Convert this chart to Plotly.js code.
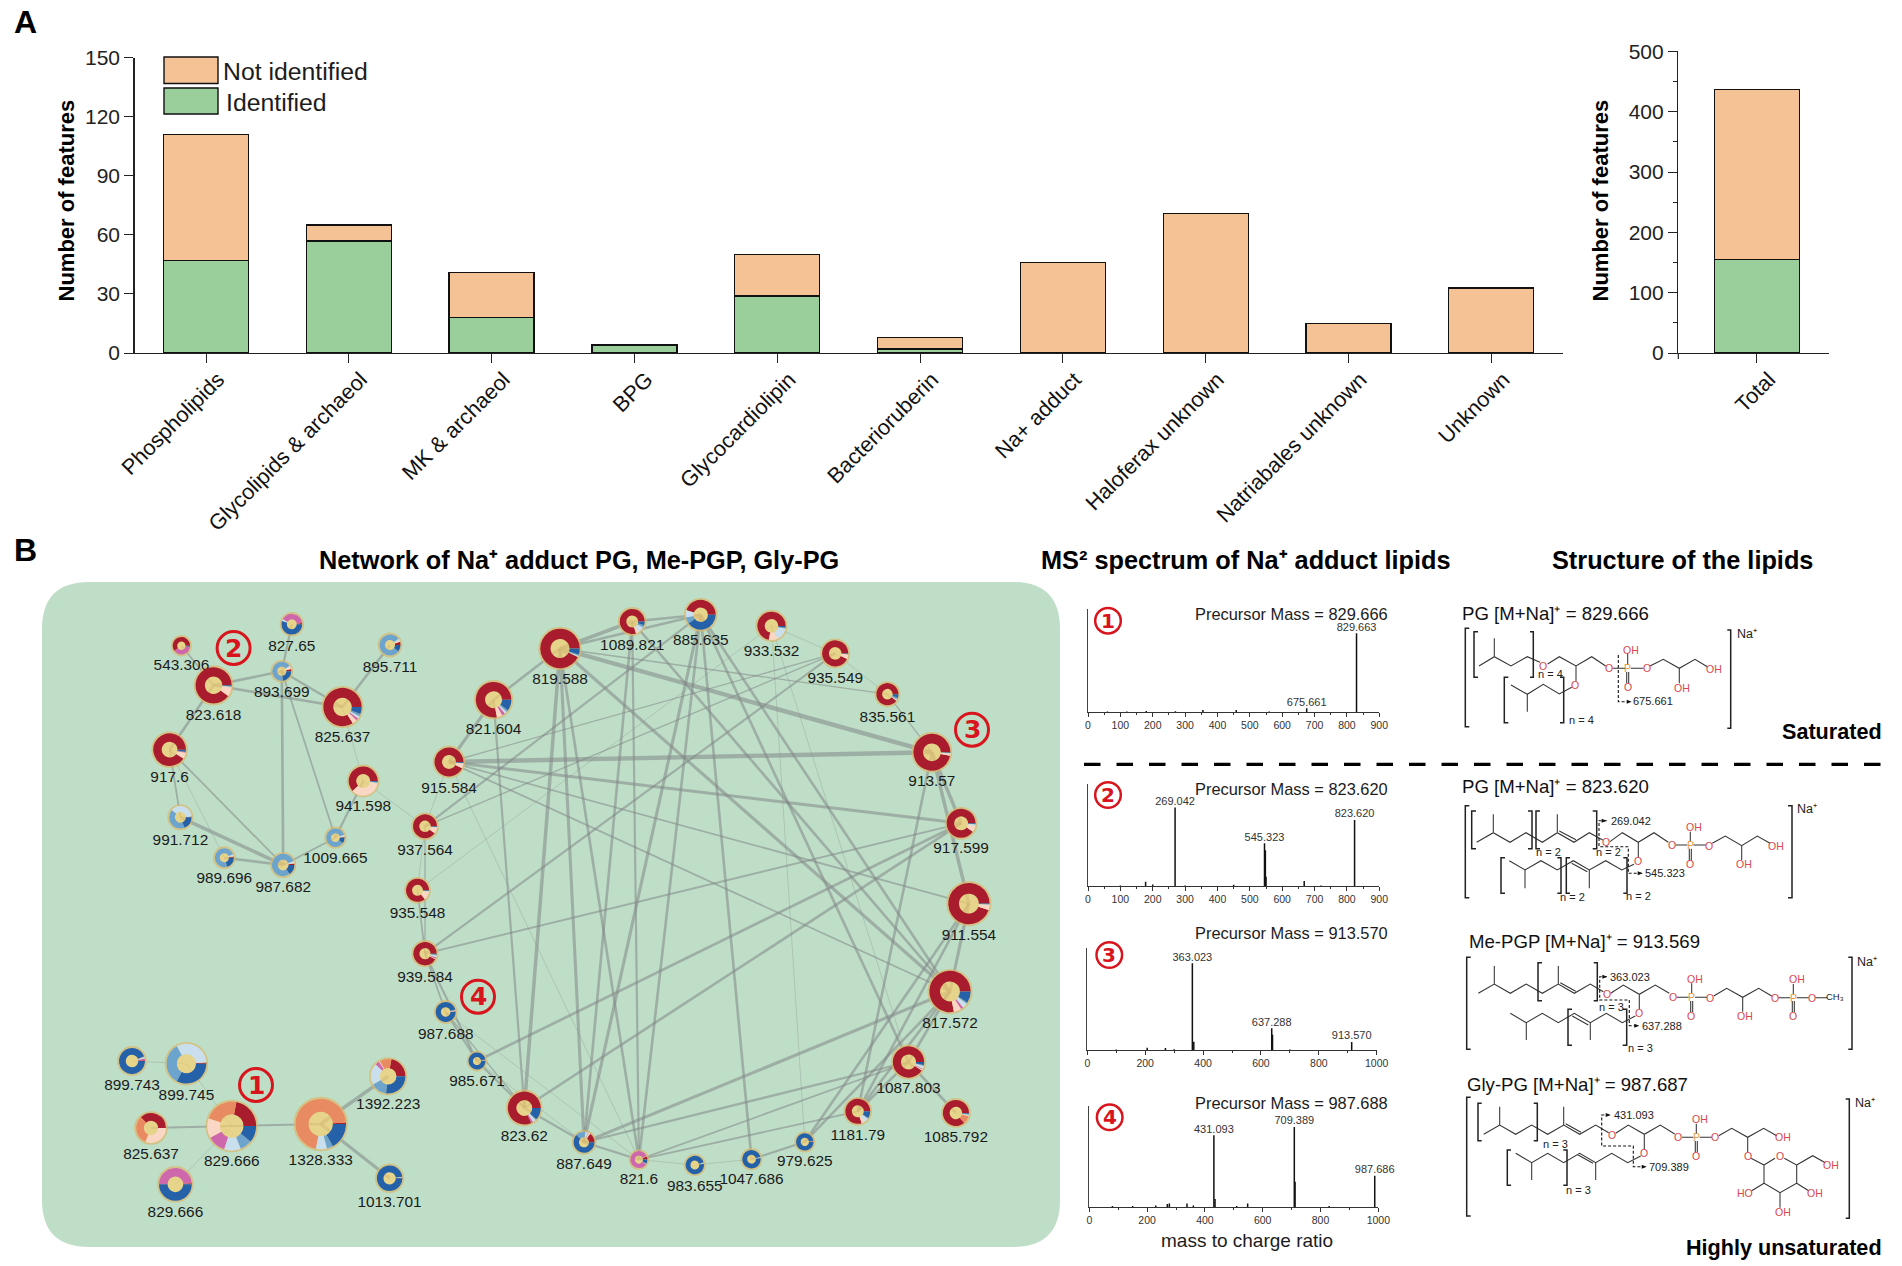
<!DOCTYPE html>
<html><head><meta charset="utf-8">
<script src="https://cdn.plot.ly/plotly-3.0.1.min.js"></script>
<style>html,body{margin:0;padding:0;background:#fff;overflow:hidden}#c{width:1902px;height:1266px}</style>
</head><body><div id="c"></div>
<script>
// ---------- Panel A data ----------
const categories = ['Phospholipids','Glycolipids & archaeol','MK & archaeol','BPG','Glycocardiolipin','Bacterioruberin','Na+ adduct','Haloferax unknown','Natriabales unknown','Unknown'];
const identified = [47,57,18,4,29,2,0,0,0,0];
const notIdentified = [64,8,23,0,21,6,46,71,15,33];
const totalCategory = ['Total'];
const totalIdentified = [155];
const totalNotIdentified = [282];

// ---------- Panel B network data (ids ending in "b" are repeated m/z labels) ----------
const nodeIds = ['543.306','827.65','893.699','895.711','823.618','825.637','917.6','941.598','991.712','989.696','987.682','1009.665',
 '821.604','915.584','937.564','935.548','939.584','987.688','985.671','823.62',
 '899.743','899.745','829.666','825.637b','829.666b','1328.333','1392.223','1013.701',
 '819.588','1089.821','885.635','933.532','935.549','835.561','913.57','917.599','911.554','817.572','1087.803','1085.792','1181.79','979.625','1047.686','983.655','821.6','887.649'];
const nodeX = [181.4,291.8,281.8,390,213.6,342.5,169.6,363.2,180.4,224.3,283.2,335.4,
 493.6,449,425,417.5,425,445.7,477,524.3,
 132,186.4,231.8,151,175.4,320.7,388.2,389.6,
 560,632.2,700.7,771.5,835.2,887.4,931.9,961.1,968.9,950,908.5,955.9,857.8,804.8,751.5,694.8,638.9,584];
const nodeY = [645.7,624.3,671.3,645,685.3,707,749.7,781,817.3,857.7,865,837.7,
 699.7,762,826.3,890.3,953.7,1012,1061,1108,
 1061,1063.7,1126,1128,1184.3,1124,1076.3,1178.3,
 648.5,621.5,614.8,625.9,653.4,694.2,752.3,823.3,903.6,991.5,1062,1113,1111.3,1141.9,1159.2,1165,1159.6,1142.3];
const nodeR = [10.2,11.8,11,12,19.6,20.7,17.9,16,12.7,11,12.7,10.7,
 19.3,16,13.5,13,13.2,11.5,10,18,
 14.5,21.4,25.9,16.4,17.9,26.8,18.75,14.3,
 21.3,14,16.5,15.7,14.6,12.6,20,16,22.2,22.2,17.2,14.6,14,10.2,10.7,10.7,10,12];
const labelY = [666,646.7,693,668,716,738,778,807,841,879,888,859,
 730,788.7,851,914,978,1034.7,1082,1137,
 1086,1095.7,1162.3,1155,1212.7,1161,1105.3,1203,
 680.5,645.9,641,652,679,717.7,782,849.5,936.5,1023.9,1089.5,1138.3,1136,1161.8,1180,1186.7,1180.5,1165];
const sliceColors = ['#A91C2E','#E98B62','#FAD6C4','#CE67AC','#C9DFEE','#6CA4CE','#2461A8'];
const sliceRows = [
 [60,0,0,38,0,0,2],[2,0,0,40,3,0,55],[4,0,3,0,3,67,23],[5,0,2,0,3,80,10],[90,0,8,0,1,0,1],[84,0,4,2,2,2,6],[91,0,6,1,0,0,2],[62,0,35,0,1,1,1],[1,0,0,0,38,42,19],[2,0,1,0,3,74,20],[2,0,1,0,3,79,15],[1,0,1,0,3,85,10],
 [78,0,5,3,2,2,10],[93,0,5,0,1,0,1],[90,0,8,0,1,0,1],[86,0,12,0,1,0,1],[92,0,1,2,3,1,1],[1,0,0,0,2,1,96],[1,0,0,0,1,1,97],[82,0,0,2,3,1,12],
 [1,0,0,2,2,1,94],[1,0,0,0,32,34,33],[22,23,13,12,11,8,11],[37,32,31,0,0,0,0],[1,0,0,49,0,0,50],[1,71,0,0,7,4,17],[22,11,1,4,20,15,27],[1,0,0,0,1,0,98],
 [93,0,0,0,1,1,5],[80,0,4,0,8,3,5],[45,0,0,0,8,7,40],[72,0,10,0,15,1,2],[93,0,6,0,0,0,1],[90,0,1,0,1,3,5],[97,0,2,0,0.5,0,0.5],[90,0,7,0,2,0,1],[95,0,4,0,0.5,0,0.5],[78,0,6,2,4,1,9],[91,0,1,1,3,1,3],[86,10,1,0,1,1,1],[80,0,4,0,6,1,9],[1,0,0,0,1,0,98],[0,0,0,0,2,0,98],[0,0,0,0,2,1,97],[6,0,1,84,1,0,8],[15,0,3,1,4,15,62]];
const edges = [
 ['543.306','823.618',2],['827.65','893.699',2.5],['823.618','893.699',3],['823.618','825.637',3],['893.699','825.637',2.5],['825.637','895.711',3],['823.618','917.6',3],['893.699','987.682',3],['893.699','1009.665',2],['825.637','941.598',1],['941.598','1009.665',2.5],['917.6','991.712',2],['917.6','989.696',1],['917.6','987.682',2],['991.712','987.682',4],['989.696','987.682',3],['1009.665','987.682',2],['941.598','937.564',1],
 ['899.743','899.745',1],['899.745','829.666',1],['825.637b','829.666',2],['829.666b','829.666',1],['829.666','1328.333',2],['1328.333','1392.223',4],['1328.333','1013.701',3.5],
 ['819.588','821.604',3],['819.588','1089.821',4],['819.588','885.635',3],['1089.821','885.635',3],['819.588','913.57',5],['819.588','817.572',3.5],['819.588','823.62',4],['819.588','887.649',3.5],['819.588','821.6',3],['819.588','835.561',1.5],
 ['1089.821','887.649',3],['1089.821','821.6',2.5],['1089.821','817.572',3],['885.635','887.649',3.5],['885.635','821.6',3],['885.635','1047.686',3],['885.635','817.572',3],['885.635','1087.803',3],
 ['933.532','1087.803',1],['933.532','979.625',1],['933.532','935.549',1],['935.549','835.561',1],['835.561','913.57',1.5],['935.549','915.584',1.5],['935.549','939.584',2.5],['935.549','937.564',1.5],
 ['913.57','915.584',5],['913.57','917.599',4],['913.57','911.554',4],['913.57','1181.79',3],['917.599','915.584',3.5],['917.599','823.62',3],['917.599','985.671',3],['917.599','939.584',2],
 ['911.554','817.572',3.5],['911.554','915.584',2],['911.554','979.625',3],['911.554','1181.79',3],['817.572','979.625',3],['817.572','887.649',3.5],['817.572','1087.803',3],['1087.803','887.649',2.5],['1087.803','821.6',2],['1087.803','1085.792',3],['1087.803','1181.79',3],
 ['915.584','821.604',3.5],['915.584','937.564',1],['915.584','821.6',1],['915.584','817.572',2],['821.604','823.62',2.5],['937.564','935.548',1],['937.564','939.584',1.5],['937.564','885.635',2.5],['935.548','939.584',2],['935.548','933.532',1],
 ['939.584','985.671',2.5],['939.584','987.688',2],['987.688','985.671',2.5],['987.688','823.62',1.5],['987.688','821.6',1],['985.671','823.62',2.5],['985.671','887.649',1],['823.62','887.649',2.5],['887.649','821.6',2.5],['821.6','983.655',1],['983.655','1047.686',1],['1047.686','979.625',2.5],['821.6','1181.79',2],['1181.79','817.572',3]];

// ---------- Panel B MS2 spectra ----------
const spec1Mz = [60,120,180,270,355,458,560,675.661,829.663], spec1Int = [0.5,0.6,1,0.8,2,2,0.6,3.6,76.6];
const spec2Mz = [100,178,200,269.042,300,450,545.323,548,550,668,720,823.62], spec2Int = [0.5,4.2,1.5,77,0.6,1.2,41.8,35,9,4.9,0.5,64.7];
const spec3Mz = [100,207,270,300,363.023,368,637.288,640,700,913.57], spec3Int = [0.5,2.3,2,0.7,85.2,8,21.3,15,0.4,7.9];
const spec4Mz = [80,150,230,270,277,338,360,431.093,435,510,548,709.389,712,830,987.686], spec4Int = [1,1,1.5,3,3.5,3.5,1.5,70.8,8,1,3.5,79,25,1,30.9];
const spec1Labels = ['675.661','829.663'], spec2Labels = ['269.042','545.323','823.620'], spec3Labels = ['363.023','637.288','913.570'], spec4Labels = ['431.093','709.389','987.686'];
const precursors = ['Precursor Mass = 829.666','Precursor Mass = 823.620','Precursor Mass = 913.570','Precursor Mass = 987.688'];

// ---------- helpers ----------
const W=1902,H=1266,FONT='Liberation Sans, Arial, sans-serif',INK='#1c1c1c';
const px=v=>v/W, py=v=>1-v/H;
const shapes=[],annotations=[],traces=[];
function T(text,x,y,o={}){annotations.push({xref:'x3',yref:'y3',x,y,text,showarrow:false,xanchor:o.xa||'center',yanchor:'middle',textangle:o.angle||0,
  font:{family:o.family||FONT,size:o.size||15,color:o.color||INK,weight:o.bold?700:400},borderpad:0,borderwidth:0});}
function P(path,o={}){shapes.push({type:'path',xref:'x3',yref:'y3',path,line:{color:o.color||'#222',width:o.width===undefined?1.1:o.width,dash:o.dash||'solid'},fillcolor:o.fill||'rgba(0,0,0,0)',layer:o.layer||'above'});}
function circled(n,x,y,r,lw,fs){shapes.push({type:'circle',xref:'x3',yref:'y3',x0:x-r,x1:x+r,y0:y-r,y1:y+r,line:{color:'#D8141C',width:lw},layer:'above'});
  T(String(n),x,y,{size:fs,bold:true,color:'#D8141C',family:'DejaVu Sans'});}

// ---------- Panel A traces ----------
const GREEN='#9ACF9C',PEACH='#F5C296';
const barLine={color:'#111',width:1.3};
traces.push({type:'bar',x:categories,y:identified,name:'Identified',marker:{color:GREEN,line:barLine},width:0.595,xaxis:'x',yaxis:'y',showlegend:false});
traces.push({type:'bar',x:categories,y:notIdentified,name:'Not identified',marker:{color:PEACH,line:barLine},width:0.595,xaxis:'x',yaxis:'y',showlegend:false});
traces.push({type:'bar',x:totalCategory,y:totalIdentified,name:'Identified',marker:{color:GREEN,line:barLine},width:0.6,xaxis:'x2',yaxis:'y2',showlegend:false});
traces.push({type:'bar',x:totalCategory,y:totalNotIdentified,name:'Not identified',marker:{color:PEACH,line:barLine},width:0.6,xaxis:'x2',yaxis:'y2',showlegend:false});

// legend swatches
shapes.push({type:'rect',xref:'x3',yref:'y3',x0:164,x1:218,y0:57,y1:83.5,fillcolor:PEACH,line:{color:'#111',width:1.4},layer:'above'});
shapes.push({type:'rect',xref:'x3',yref:'y3',x0:164,x1:218,y0:88,y1:114,fillcolor:GREEN,line:{color:'#111',width:1.4},layer:'above'});
shapes.push({type:'line',xref:'x3',yref:'y3',x0:1678.3,x1:1678.3,y0:353,y1:359,line:{color:'#222',width:1.2},layer:'above'});
T('Not identified',223,71,{xa:'left',size:24.8});
T('Identified',226,102,{xa:'left',size:24.8});
T('Number of features',65.5,201,{size:22,bold:true,color:'#000',angle:-90});
T('Number of features',1599.5,201,{size:22,bold:true,color:'#000',angle:-90});
T('A',25,22,{size:32,bold:true,color:'#000'});
T('B',25,550,{size:32,bold:true,color:'#000'});
T('Network of Na⁺ adduct PG, Me-PGP, Gly-PG',579,560,{size:25.3,bold:true,color:'#000'});
T('MS² spectrum of Na⁺ adduct lipids',1246,560,{size:25.3,bold:true,color:'#000'});
T('Structure of the lipids',1682,560,{size:25.3,bold:true,color:'#000'});

// ---------- Network ----------
const R0=47,PL=42,PR=1060,PT=582,PB=1247;
P(`M ${PL+R0} ${PT} L ${PR-R0} ${PT} Q ${PR} ${PT} ${PR} ${PT+R0} L ${PR} ${PB-R0} Q ${PR} ${PB} ${PR-R0} ${PB} L ${PL+R0} ${PB} Q ${PL} ${PB} ${PL} ${PB-R0} L ${PL} ${PT+R0} Q ${PL} ${PT} ${PL+R0} ${PT} Z`,{width:0,fill:'#BFDEC8',layer:'below'});
const idx=id=>nodeIds.indexOf(id);
[...new Set(edges.map(e=>e[2]))].forEach(w=>{
  const xs=[],ys=[];
  edges.filter(e=>e[2]===w).forEach(([a,b])=>{xs.push(nodeX[idx(a)],nodeX[idx(b)],null);ys.push(nodeY[idx(a)],nodeY[idx(b)],null);});
  traces.push({type:'scatter',mode:'lines',x:xs,y:ys,xaxis:'x3',yaxis:'y3',hoverinfo:'skip',showlegend:false,
    line:{color:w<=1?'rgba(130,140,135,0.35)':'rgba(130,135,135,0.55)',width:w*0.88}});
});
traces.push({type:'scatter',mode:'markers',x:nodeX,y:nodeY,xaxis:'x3',yaxis:'y3',hoverinfo:'skip',showlegend:false,
  marker:{color:'#F7D070',size:nodeR.map(r=>2*r-1),line:{color:'#D9B96E',width:1.8}}});
traces.push({type:'scatter',mode:'text',x:nodeX,y:labelY,text:nodeIds.map(s=>s.replace(/b$/,'')),xaxis:'x3',yaxis:'y3',hoverinfo:'skip',showlegend:false,
  textposition:'middle center',textfont:{family:FONT,size:15.4,color:'#1a1a1a'}});
nodeIds.forEach((id,i)=>{
  const r=nodeR[i]-1.5,vals=sliceRows[i],tot=vals.reduce((a,b)=>a+b,0),first=vals.find(v=>v>0);
  // plotly lays the first slice clockwise of "rotation" when direction is counterclockwise;
  // subtracting its span makes every ring begin at 3 o'clock and run counterclockwise
  traces.push({type:'pie',values:vals,labels:sliceColors,marker:{colors:sliceColors,line:{width:0}},sort:false,direction:'counterclockwise',rotation:90-first/tot*360,hole:0.48,
    textinfo:'none',hoverinfo:'skip',showlegend:false,domain:{x:[px(nodeX[i]-r),px(nodeX[i]+r)],y:[py(nodeY[i]+r),py(nodeY[i]-r)]}});
});
circled(1,256,1085,16.5,3,25);circled(2,233.6,648,16.5,3,25);circled(3,972,729.7,16.5,3,25);circled(4,478,996.7,16.5,3,25);

// ---------- Spectra ----------
const specBoxes=[
 {x0:1088,x1:1379.3,y0:609.3,y1:712,max:900,dt:100,mz:spec1Mz,i:spec1Int,l:spec1Labels},
 {x0:1088,x1:1379.3,y0:784,y1:886,max:900,dt:100,mz:spec2Mz,i:spec2Int,l:spec2Labels},
 {x0:1087.3,x1:1376.7,y0:948.3,y1:1050,max:1000,dt:200,mz:spec3Mz,i:spec3Int,l:spec3Labels},
 {x0:1089.3,x1:1378.3,y0:1105.7,y1:1207,max:1000,dt:200,mz:spec4Mz,i:spec4Int,l:spec4Labels}];
const specAxes={};
specBoxes.forEach((b,k)=>{
  const n=k+4,xa='x'+n,ya='y'+n;
  const xs=[],ys=[];b.mz.forEach((m,j)=>{xs.push(m,m,null);ys.push(0,b.i[j],null);});
  traces.push({type:'scatter',mode:'lines',x:xs,y:ys,xaxis:xa,yaxis:ya,hoverinfo:'skip',showlegend:false,line:{color:'#111',width:1.5}});
  const lx=b.l.map(s=>parseFloat(s)),ly=lx.map(v=>{let bi=0,bd=1e9;b.mz.forEach((m,j)=>{const d=Math.abs(m-v);if(d<bd){bd=d;bi=j;}});return b.i[bi];});
  traces.push({type:'scatter',mode:'text',x:lx,y:ly,text:b.l,xaxis:xa,yaxis:ya,hoverinfo:'skip',showlegend:false,cliponaxis:false,textposition:'top center',textfont:{family:FONT,size:11,color:'#333'}});
  specAxes['xaxis'+n]={domain:[px(b.x0),px(b.x1)],range:[0,b.max],anchor:ya,showgrid:false,zeroline:false,showline:true,linecolor:'#333',linewidth:1.3,ticks:'outside',ticklen:3.5,tickcolor:'#333',dtick:b.dt,
    minor:{dtick:b.dt/2,ticks:'outside',ticklen:2,tickcolor:'#333'},tickfont:{family:FONT,size:10.5,color:'#333'},tickangle:0};
  specAxes['yaxis'+n]={domain:[py(b.y1),py(b.y0)],range:[0,100],anchor:xa,showgrid:false,zeroline:false,showline:true,linecolor:'#444',linewidth:1.3,showticklabels:false,ticks:''};
});
[614.3,789,932.7,1103].forEach((y,k)=>T(precursors[k],1387.7,y,{xa:'right',size:16.4}));
circled(1,1108,620.7,12.8,2.5,20);circled(2,1108,795,12.8,2.5,20);circled(3,1109.3,955,12.8,2.5,20);circled(4,1109.7,1117.3,12.8,2.5,20);
T('mass to charge ratio',1247,1240,{size:19});
shapes.push({type:'line',xref:'x3',yref:'y3',x0:1084,x1:1896,y0:764.3,y1:764.3,line:{color:'#000',width:3.2,dash:'16.5px,16px'},layer:'above'});

// ---------- Lipid structures (drawn in 3x crop units, offset per block) ----------
function structure(s){
  const X=v=>1450+v/3,Y=v=>s.oy+v/3;
  const toPath=pl=>pl.map(a=>{let d='';for(let i=0;i<a.length;i+=2)d+=(i?' L ':'M ')+X(a[i]).toFixed(1)+' '+Y(a[i+1]).toFixed(1);return d;}).join(' ');
  P(toPath(s.bonds),{width:1.05,color:'#333'});
  P(toPath(s.brackets),{width:1.5,color:'#222'});
  P(toPath(s.dash),{width:1.1,color:'#111',dash:'3px,2px'});
  s.arrows.forEach(([x,y,dx])=>{const tip=X(x),yy=Y(y);P(`M ${tip} ${yy} L ${tip-dx*5} ${yy-2} L ${tip-dx*5} ${yy+2} Z`,{width:0,fill:'#111'});});
  s.text.forEach(([t,x,y])=>{
    const red=/^(O|OH|HO)$/.test(t),or=t==='P';
    const isBig=/^Na/.test(t);
    T(t,X(x),Y(y),{size:isBig?12.5:(red||or?10.5:(t==='CH₃'?9.5:11)),color:red?'#D9464E':or?'#E59A3C':'#222'});
  });
  T(s.head[0],X(s.head[1]),Y(s.head[2]),{xa:'left',size:18.6,color:'#111'});
}
structure({oy:580,head:['PG [M+Na]⁺ = 829.666',36,100],
 bonds:[[87,258,133,230,183,258,232,230,270,247],[133,230,133,175],[293,252,328,230,378,258,425,230,467,258],[378,258,378,303],[488,265,525,265],[533,255,533,222],[530,276,530,310],[536,276,536,310],[542,265,580,265],[600,258,640,238,688,265,735,238,772,260],[688,265,688,310],[183,315,232,343,280,313,328,342,365,322],[232,343,232,395]],
 brackets:[[58,145,46,145,46,440,58,440],[832,150,842,150,842,445,832,445],[84,155,72,155,72,292,84,292],[240,155,250,155,250,292,240,292],[175,292,163,292,163,428,175,428],[330,292,341,292,341,428,330,428]],
 dash:[[505,225,505,365,530,365]],arrows:[[545,365,1]],
 text:[['O',280,257],['O',376,315],['O',478,265],['P',533,265],['OH',544,210],['O',533,322],['O',590,265],['OH',792,267],['OH',695,323],['n = 4',302,283],['n = 4',395,421],['Na⁺',890,163],['675.661',608,362]]});
structure({oy:580,head:['PG [M+Na]⁺ = 823.620',36,620],
 bonds:[[80,787,130,758,180,787,228,758,277,787,322,758,372,787,418,758,458,780],[130,758,130,703],[322,758,322,703],[328,753,378,779],[480,785,517,758,565,787,612,758,655,787],[565,787,565,833],[676,795,712,795],[721,784,721,755],[718,806,718,842],[724,806,724,842],[730,795,767,795],[787,790,826,768,875,797,922,768,960,790],[875,797,875,840],[178,842,225,870,273,842,322,870,370,842,418,870,467,842,515,870,552,853],[225,870,225,925],[418,870,418,925],[365,850,412,875]],
 brackets:[[58,677,46,677,46,953,58,953],[1014,677,1026,677,1026,953,1014,953],[78,693,65,693,65,806,78,806],[234,693,246,693,246,806,234,806],[270,693,258,693,258,806,270,806],[428,693,440,693,440,806,428,806],[165,833,153,833,153,940,165,940],[322,833,333,833,333,940,322,940],[360,833,349,833,349,940,360,940],[520,833,531,833,531,940,520,940]],
 dash:[[470,722,447,722,447,800,535,800,535,880,575,880]],arrows:[[470,722,1],[578,880,1]],
 text:[['O',467,787],['O',563,843],['O',665,795],['P',721,795],['OH',732,740],['O',720,853],['O',777,797],['OH',979,797],['OH',882,853],['n = 2',296,815],['n = 2',476,815],['n = 2',367,951],['n = 2',565,948],['Na⁺',1072,688],['269.042',542,722],['545.323',645,880]]});
structure({oy:910,head:['Me-PGP [M+Na]⁺ = 913.569',57,93],
 bonds:[[85,250,133,222,181,250,229,222,277,250,325,222,373,250,421,222,460,245],[133,222,133,168],[325,222,325,168],[331,218,377,244],[482,250,520,225,568,253,616,225,658,250],[568,253,568,297],[680,262,716,262],[725,250,725,220],[722,273,722,307],[728,273,728,307],[735,262,771,262],[791,258,830,235,878,262,926,235,965,258],[878,262,878,305],[985,263,1021,263],[1030,252,1030,222],[1027,273,1027,307],[1033,273,1033,307],[1040,263,1076,263],[1096,263,1132,263],[181,310,229,338,277,310,325,338,373,310,421,338,469,310,517,338,556,318],[229,338,229,390],[421,338,421,390],[367,318,415,345]],
 brackets:[[62,142,50,142,50,418,62,418],[1195,142,1206,142,1206,418,1195,418],[276,158,264,158,264,272,276,272],[431,158,442,158,442,272,431,272],[366,298,354,298,354,406,366,406],[518,298,530,298,530,406,518,406]],
 dash:[[470,200,449,200,449,270,538,270,538,347,565,347]],arrows:[[472,200,1],[568,347,1]],
 text:[['O',470,253],['O',567,310],['O',668,262],['P',725,262],['OH',735,206],['O',724,318],['O',781,263],['O',975,263],['OH',886,318],['P',1030,263],['OH',1040,207],['O',1029,318],['O',1086,263],['CH₃',1155,260],['n = 3',483,290],['n = 3',572,413],['Na⁺',1250,157],['363.023',541,200],['637.288',635,347]]});
structure({oy:910,head:['Gly-PG [M+Na]⁺ = 987.687',52,522],
 bonds:[[101,673,149,645,197,673,245,645,293,673,341,645,389,673,437,645,476,668],[149,645,149,590],[341,645,341,590],[347,641,393,667],[497,670,535,645,583,673,631,645,674,672],[583,673,583,718],[696,682,730,682],[739,671,739,641],[736,693,736,727],[742,693,742,727],[749,682,785,682],[806,677,845,655,893,682,941,655,980,677],[893,682,893,727],[903,745,942,765],[942,765,975,745],[1003,745,1040,765,1040,820,990,848,942,820,942,765],[1040,765,1088,737,1126,758],[1040,820,1076,842],[990,848,990,893],[942,820,905,842],[197,730,245,758,293,730,341,758,389,730,437,758,485,730,533,758,572,738],[245,758,245,810],[437,758,437,810],[383,734,429,760]],
 brackets:[[62,562,50,562,50,918,62,918],[1187,567,1198,567,1198,925,1187,925],[95,580,84,580,84,692,95,692],[251,580,262,580,262,692,251,692],[183,720,172,720,172,826,183,826],[340,720,351,720,351,826,340,826]],
 dash:[[478,615,455,615,455,708,550,708,550,770,585,770]],arrows:[[482,615,1],[590,770,1]],
 text:[['O',486,674],['O',583,729],['O',685,682],['P',739,682],['OH',750,627],['O',739,738],['O',796,682],['OH',998,682],['O',893,739],['O',989,739],['OH',1143,766],['OH',1095,850],['OH',998,905],['HO',885,850],['n = 3',315,702],['n = 3',385,841],['Na⁺',1245,578],['431.093',551,615],['709.389',658,770]]});
T('Saturated',1882,731.7,{xa:'right',size:21.6,bold:true,color:'#000'});
T('Highly unsaturated',1882,1247,{xa:'right',size:21.6,bold:true,color:'#000'});

// ---------- Layout ----------
const tickF={family:FONT,size:21,color:'#222'};
const xTickF={family:FONT,size:21.6,color:'#111'};
const layout={width:W,height:H,margin:{l:0,r:0,t:0,b:0},paper_bgcolor:'#fff',plot_bgcolor:'rgba(0,0,0,0)',barmode:'stack',showlegend:false,font:{family:FONT},
 xaxis:{domain:[px(134.6),px(1562.7)],range:[-0.5,9.5],type:'category',anchor:'y',tickangle:-45,ticks:'outside',ticklen:9,tickcolor:'#222',linecolor:'#222',linewidth:1.4,showline:true,showgrid:false,zeroline:false,tickfont:xTickF,ticklabelshift:12,ticklabelstandoff:-5},
 yaxis:{domain:[py(353),py(57.9)],range:[0,150],dtick:30,anchor:'x',ticks:'outside',ticklen:9,tickcolor:'#222',linecolor:'#222',linewidth:1.4,showline:true,showgrid:false,zeroline:false,tickfont:tickF},
 xaxis2:{domain:[px(1678.3),px(1829)],range:[-0.555,0.508],type:'category',anchor:'y2',tickangle:-45,ticks:'outside',ticklen:9,tickcolor:'#222',linecolor:'#222',linewidth:1.4,showline:true,showgrid:false,zeroline:false,tickfont:xTickF,ticklabelshift:12,ticklabelstandoff:-5},
 yaxis2:{domain:[py(353),py(51.4)],range:[0,500],dtick:100,anchor:'x2',ticks:'outside',ticklen:9,tickcolor:'#222',linecolor:'#222',linewidth:1.4,showline:true,showgrid:false,zeroline:false,tickfont:tickF,minor:{dtick:50,ticks:'outside',ticklen:4,tickcolor:'#222'}},
 xaxis3:{domain:[0,1],range:[0,W],anchor:'y3',visible:false,fixedrange:true},
 yaxis3:{domain:[0,1],range:[H,0],anchor:'x3',visible:false,fixedrange:true},
 shapes,annotations,...specAxes};
Plotly.newPlot('c',traces,layout,{staticPlot:true,displayModeBar:false,responsive:false});
</script></body></html>
